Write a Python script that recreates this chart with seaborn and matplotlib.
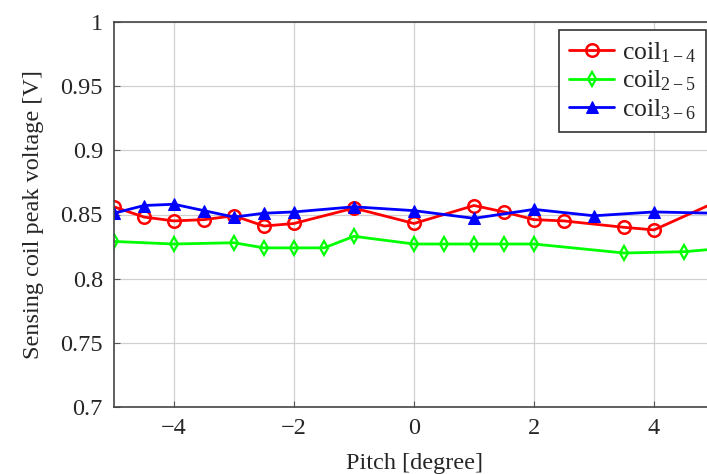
import numpy as np
import pandas as pd
import seaborn as sns
import matplotlib
matplotlib.use("Agg")
import matplotlib.pyplot as plt

# values
pitch_14 = [-5, -4.5, -4, -3.5, -3, -2.5, -2, -1, 0, 1, 1.5, 2, 2.5, 3.5, 4, 5]
volt_14 = [0.856, 0.848, 0.845, 0.846, 0.849, 0.841, 0.843, 0.855,
           0.843, 0.857, 0.852, 0.846, 0.845, 0.840, 0.838, 0.859]

pitch_25 = [-5, -4, -3, -2.5, -2, -1.5, -1, 0, 0.5, 1, 1.5, 2, 3.5, 4.5, 5]
volt_25 = [0.829, 0.827, 0.828, 0.824, 0.824, 0.824, 0.833,
           0.827, 0.827, 0.827, 0.827, 0.827, 0.820, 0.821, 0.823]

pitch_36 = [-5, -4.5, -4, -3.5, -3, -2.5, -2, -1, 0, 1, 2, 3, 4, 5]
volt_36 = [0.851, 0.857, 0.858, 0.853, 0.848, 0.851, 0.852, 0.856,
           0.853, 0.847, 0.854, 0.849, 0.852, 0.851]

labels = [r"coil$_{1-4}$", r"coil$_{2-5}$", r"coil$_{3-6}$"]

sns.set_style("whitegrid")
plt.rcParams['font.family'] = ['Liberation Serif', 'DejaVu Serif']
plt.rcParams['mathtext.fontset'] = 'custom'
plt.rcParams['mathtext.rm'] = 'Liberation Serif'
plt.rcParams['mathtext.it'] = 'Liberation Serif:italic'
plt.rcParams['axes.unicode_minus'] = True

fs = 17.5

fig = plt.figure(figsize=(7.07, 4.74), dpi=100)
# axes runs a bit past the right edge, like the original crop
ax = fig.add_axes([114 / 707, 67 / 474, 600 / 707, 385 / 474])

df14 = pd.DataFrame({"pitch": pitch_14, "volt": volt_14})
df25 = pd.DataFrame({"pitch": pitch_25, "volt": volt_25})
df36 = pd.DataFrame({"pitch": pitch_36, "volt": volt_36})

sns.lineplot(data=df14, x="pitch", y="volt", ax=ax, color=(1, 0, 0), lw=2,
             marker="o", ms=9, mfc="none", mec=(1, 0, 0), mew=1.8, label=labels[0])
sns.lineplot(data=df25, x="pitch", y="volt", ax=ax, color=(0, 1, 0), lw=2,
             marker="d", ms=7.5, mfc="none", mec=(0, 1, 0), mew=1.6, label=labels[1])
sns.lineplot(data=df36, x="pitch", y="volt", ax=ax, color=(0, 0, 1), lw=2,
             marker="^", ms=9, mfc=(0, 0, 1), mec=(0, 0, 1), label=labels[2])

ax.set_xlim(-5, 5)
ax.set_ylim(0.7, 1.0)
ax.set_xticks([-4, -2, 0, 2, 4])
ax.set_yticks([0.7, 0.75, 0.8, 0.85, 0.9, 0.95, 1.0])
ax.set_yticklabels(["0.7", "0.75", "0.8", "0.85", "0.9", "0.95", "1"])
ax.grid(True, color="#d0d0d0", lw=0.9)
ax.tick_params(direction="in", length=4, labelsize=fs, color="#555555",
               left=True, bottom=True, pad=8)
for sp in ax.spines.values():
    sp.set_color("#444444")
    sp.set_linewidth(1.2)

ax.set_xlabel("Pitch [degree]", fontsize=fs, labelpad=10)
ax.set_ylabel("Sensing coil peak voltage [V]", fontsize=fs, labelpad=12)

leg = ax.legend(loc="upper right", bbox_to_anchor=(706 / 707, 1 - 30 / 474),
                bbox_transform=fig.transFigure, borderaxespad=0, fontsize=18.5,
                fancybox=False, framealpha=1, edgecolor="#333333",
                handlelength=1.75, handletextpad=0.3, labelspacing=0.15,
                borderpad=0.4)
leg.get_frame().set_linewidth(1.2)

fig.savefig("out.png", dpi=100)
